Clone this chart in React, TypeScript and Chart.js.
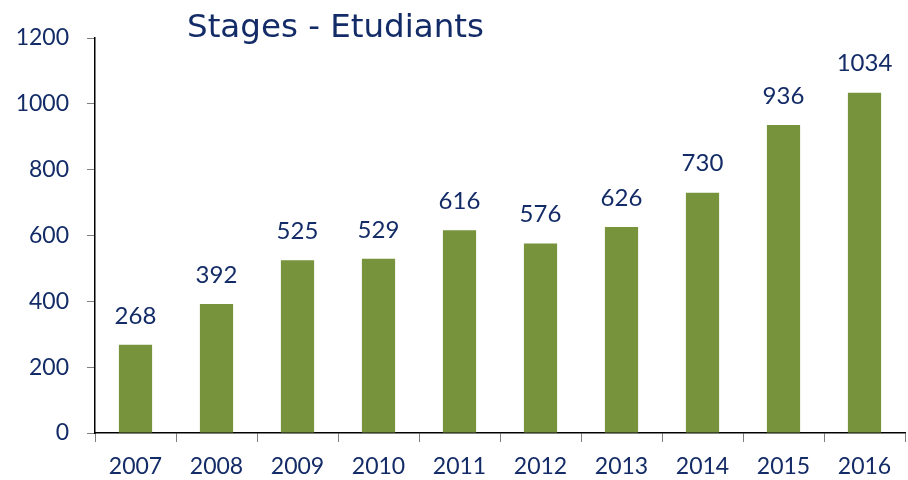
import React, { useEffect, useRef } from "react";
import { Chart, registerables } from "chart.js";

Chart.register(...registerables);

const years = ["2007", "2008", "2009", "2010", "2011", "2012", "2013", "2014", "2015", "2016"];
const students = [268, 392, 525, 529, 616, 576, 626, 730, 936, 1034];
const titleText = "Stages - Etudiants";

const NAVY = "#132B66";
const BAR = "#77933C";

const labelPlugin = {
  id: "barLabels",
  afterDatasetsDraw(chart: any) {
    const ctx = chart.ctx;
    const meta = chart.getDatasetMeta(0);
    ctx.save();
    ctx.fillStyle = NAVY;
    ctx.font = "24px Lato";
    ctx.textAlign = "center";
    ctx.textBaseline = "middle";
    meta.data.forEach((el: any, i: number) => {
      ctx.fillText(String(students[i]), el.x, el.y - 29);
    });
    ctx.restore();
  },
};

const titlePlugin = {
  id: "titleText",
  afterDraw(chart: any) {
    const ctx = chart.ctx;
    ctx.save();
    ctx.fillStyle = NAVY;
    ctx.font = "32.5px 'DejaVu Sans'";
    ctx.textAlign = "left";
    ctx.textBaseline = "alphabetic";
    ctx.fillText(titleText, 187, 37);
    ctx.restore();
  },
};

export default function App() {
  const ref = useRef<HTMLCanvasElement | null>(null);
  useEffect(() => {
    if (!ref.current) return;
    const chart = new Chart(ref.current, {
      type: "bar",
      data: {
        labels: years,
        datasets: [
          {
            data: students,
            backgroundColor: BAR,
            borderWidth: 0,
            barPercentage: 0.41,
            categoryPercentage: 1,
          },
        ],
      },
      options: {
        animation: false,
        responsive: false,
        maintainAspectRatio: false,
        layout: { padding: { top: 38, right: 3, left: 0, bottom: 0 } },
        plugins: { legend: { display: false }, tooltip: { enabled: false } },
        scales: {
          x: {
            grid: { display: true, drawOnChartArea: false, drawTicks: true, tickLength: 9, color: "#7F7F7F", offset: true },
            border: { display: true, color: "#000000", width: 1.5 },
            ticks: { color: NAVY, font: { family: "Lato", size: 23 }, padding: 11 },
            afterFit(scale: any) { scale.height = 47; },
          },
          y: {
            min: 0,
            max: 1200,
            grid: { display: true, drawOnChartArea: false, drawTicks: true, tickLength: 8, color: "#7F7F7F" },
            border: { display: true, color: "#000000", width: 1.5 },
            ticks: {
              stepSize: 200,
              color: NAVY,
              font: { family: "Lato", size: 23 },
              padding: 18,
              callback: (v: any) => String(v),
            },
            afterFit(scale: any) { scale.width = 95; },
          },
        },
      },
      plugins: [labelPlugin, titlePlugin],
    });
    return () => chart.destroy();
  }, []);
  return (
    <div style={{ position: "fixed", left: 0, top: 0, width: 908, height: 480, background: "#fff" }}>
      <canvas ref={ref} width={908} height={480} />
    </div>
  );
}
